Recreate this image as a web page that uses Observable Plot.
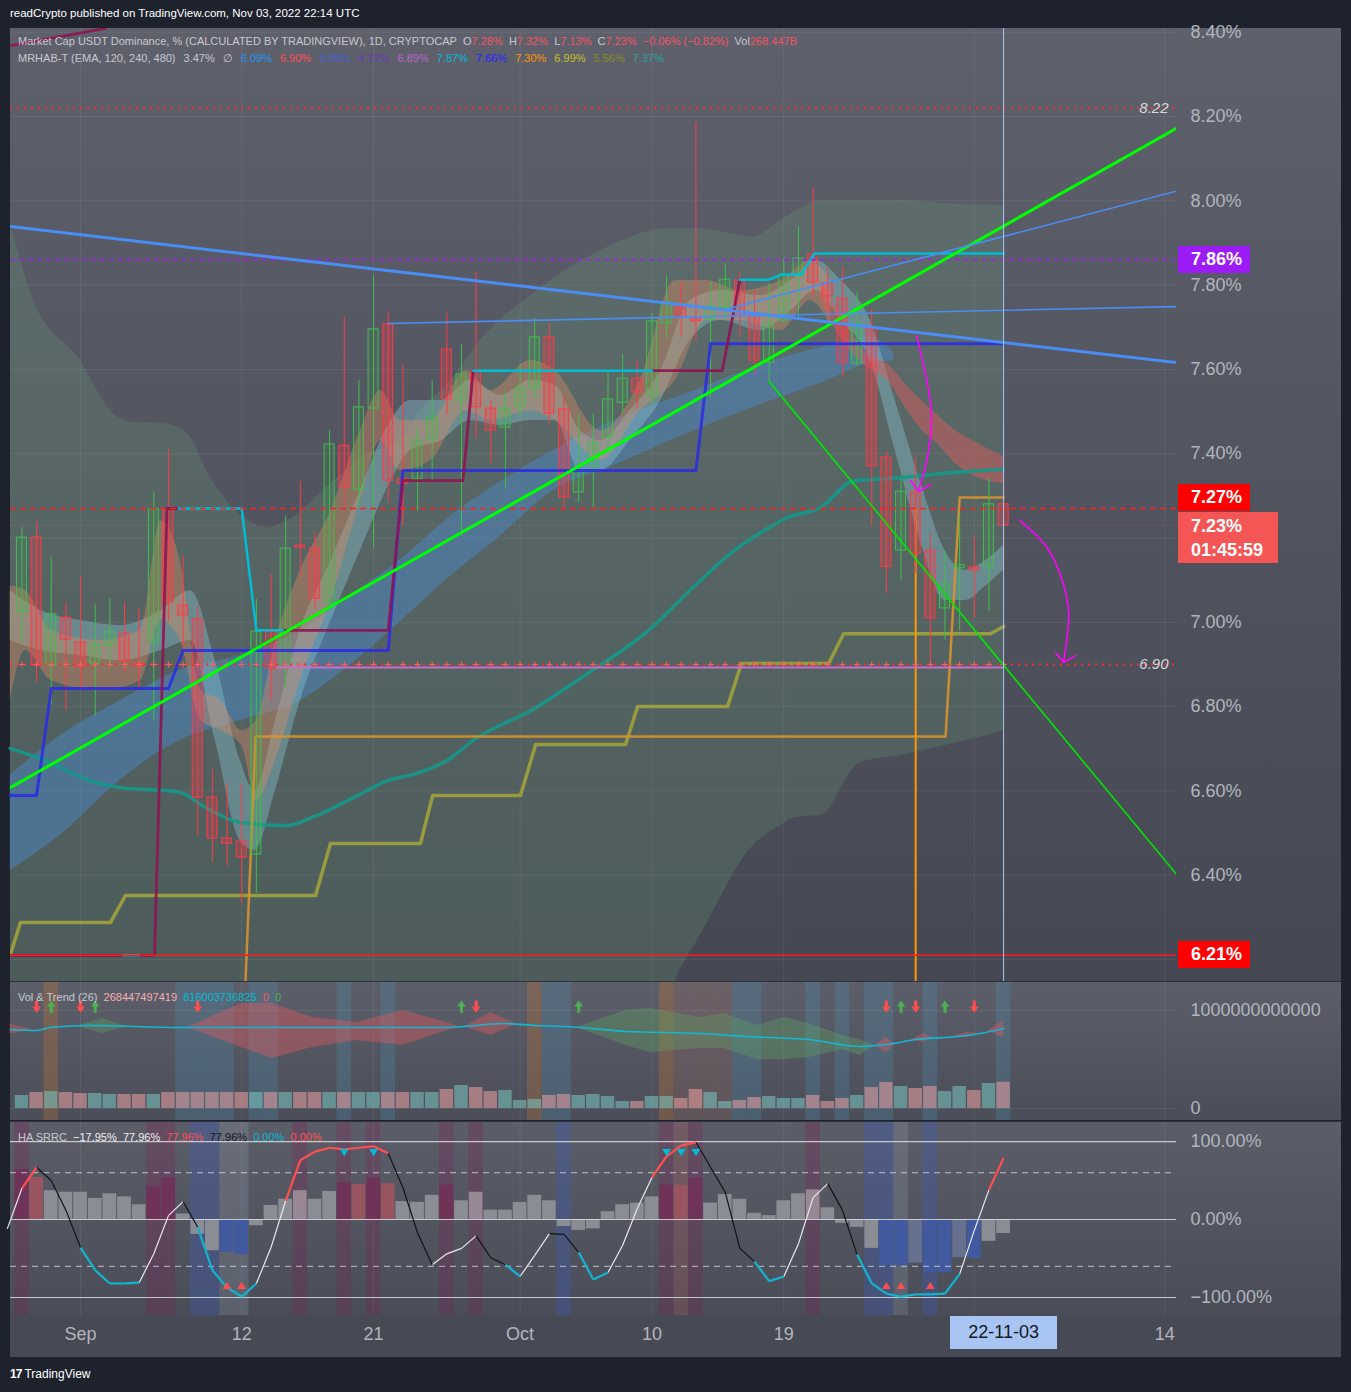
<!DOCTYPE html>
<html><head><meta charset="utf-8">
<script src="https://cdn.jsdelivr.net/npm/d3@7"></script>
<script src="https://cdn.jsdelivr.net/npm/@observablehq/plot@0.6"></script>
<style>
html,body{margin:0;padding:0;background:#1e222d;}
#root{position:relative;width:1351px;height:1392px;overflow:hidden;font-family:"Liberation Sans",Arial,sans-serif;}
.abs{position:absolute;white-space:nowrap;}
#root svg{position:absolute;}
.r{color:#f7525f}
.v{display:inline-block;margin-right:8px}
</style></head><body><div id="root"></div>
<script>
// ---------- DATA (day index 0 = Sep 1, 2022) ----------
const days = [-4,-3,-2,-1,0,1,2,3,4,5,6,7,8,9,10,11,12,13,14,15,16,17,18,19,20,21,22,23,24,25,26,27,28,29,30,31,32,33,34,35,36,37,38,39,40,41,42,43,44,45,46,47,48,49,50,51,52,53,54,55,56,57,58,59,60,61,62,63];
const opens = [7.026,7.201,6.897,7.011,6.952,6.902,6.945,6.973,6.902,6.952,
 7.268,7.040,7.007,6.584,6.487,6.480,6.449,6.978,6.893,7.182,
 7.175,7.047,7.419,7.315,7.507,7.707,7.339,7.339,7.434,7.647,
 7.526,7.597,7.507,7.462,7.512,7.555,7.676,7.505,7.308,7.358,
 7.438,7.521,7.578,7.536,7.709,7.747,7.721,7.718,7.747,7.811,
 7.730,7.616,7.716,7.823,7.873,7.804,7.768,7.614,7.695,7.391,
 7.170,7.308,7.170,7.033,7.128,7.130,7.130,7.28];
const highs = [7.225,7.239,7.154,7.047,7.109,7.042,7.056,7.047,7.033,7.308,
 7.410,7.156,7.040,6.651,6.618,6.615,7.054,7.113,7.253,7.334,
 7.213,7.455,7.723,7.574,7.823,7.737,7.609,7.460,7.574,7.733,
 7.659,7.830,7.526,7.545,7.612,7.721,7.709,7.536,7.495,7.495,
 7.593,7.635,7.621,7.733,7.823,7.804,8.186,7.806,7.851,7.832,
 7.787,7.804,7.863,7.937,8.032,7.842,7.842,7.782,7.742,7.405,
 7.341,7.393,7.211,7.168,7.256,7.204,7.341,7.32];
const lows = [6.954,6.855,6.803,6.791,6.845,6.779,6.893,6.883,6.838,6.767,
 7.002,6.940,6.494,6.430,6.421,6.333,6.357,6.814,6.843,7.106,
 7.030,7.040,7.272,7.272,7.177,7.282,7.230,7.263,7.332,7.491,
 7.204,7.434,7.377,7.315,7.484,7.529,7.472,7.265,7.284,7.272,
 7.400,7.495,7.510,7.514,7.673,7.678,7.664,7.533,7.716,7.673,
 7.590,7.571,7.709,7.721,7.771,7.744,7.581,7.607,7.230,7.068,
 7.099,7.116,6.897,6.957,6.978,7.009,7.026,7.13];
const closes = [7.201,6.897,7.019,6.959,6.893,6.947,6.976,6.907,6.895,7.268,
 7.047,7.016,6.584,6.487,6.475,6.442,6.978,6.890,7.175,7.177,
 7.056,7.422,7.320,7.510,7.695,7.336,7.329,7.431,7.488,7.529,
 7.588,7.510,7.455,7.507,7.555,7.676,7.495,7.296,7.358,7.424,
 7.529,7.578,7.545,7.714,7.759,7.723,7.714,7.749,7.813,7.726,
 7.621,7.709,7.823,7.863,7.806,7.773,7.616,7.707,7.370,7.132,
 7.310,7.163,7.009,7.090,7.135,7.123,7.280,7.23];
// volume in billions
const volumes = [133,163,173,163,153,153,143,143,143,143,
 163,163,163,163,163,163,163,163,163,163,
 163,163,163,163,163,163,163,163,163,194,
 235,214,173,184,82,92,133,143,133,143,
 122,71,71,122,122,102,194,163,71,82,
 112,122,102,102,133,71,102,133,214,265,
 224,204,224,173,224,184,255,268];

// cloud envelope
const cloudDays = [-4.8,-3.2,0,2.05,3.6,5.5,7.3,8.7,10.4,12.8,14.1,17.3,19.6,21.8,23.2,25.3,27.3,30.7,35.5,37.5,39.8,41,42.1,45.9,47.8,48.8,50.5,53.2,56,58.4,61.4,63];
const cloudHi = [7.95,7.763,7.621,7.502,7.474,7.472,7.448,7.353,7.272,7.225,7.241,7.336,7.400,7.431,7.502,7.574,7.669,7.775,7.882,7.913,7.934,7.934,7.934,7.915,7.953,7.975,8.001,8.0,8.001,7.995,7.99,7.989];
const cloudLo = [6.10,6.10,6.10,6.10,6.10,6.10,6.10,6.10,6.10,6.10,6.10,6.10,6.10,6.10,6.10,6.10,6.10,6.10,6.10,6.10,6.10,6.181,6.245,6.47,6.518,6.537,6.542,6.667,6.684,6.703,6.727,6.743];
// steel-blue band
const blueBandDays = [-4.8,-1.4,2.7,6.8,10.9,15,18.4,21.8,25.3,28.3,32.3,36.4,41.4,45.9,50.5,53.9,55.5];
const blueBandHi = [6.637,6.731,6.814,6.886,6.921,6.981,7.064,7.147,7.253,7.325,7.408,7.479,7.543,7.604,7.652,7.676,7.640];
const blueBandLo = [6.411,6.494,6.625,6.720,6.767,6.814,6.898,7.000,7.111,7.194,7.313,7.372,7.448,7.510,7.567,7.614,7.620];
// pale teal ribbon
const tealBandDays = [-4.8,-2.7,0,2.7,5.5,7.5,9.2,10.9,11.9,13.3,15,17.1,19.1,21.2,22.5,24.6,26.6,28.7,30.7,32.4,34.1,35.5,37.5,39.6,41.6,43.7,46.4,48.5,50.2,51.9,53.9,55.6,57.3,59,60.4,61.8,63];
const tealBandHi = [7.075,7.028,7.004,6.992,7.028,7.075,6.909,6.672,6.601,6.767,6.981,7.147,7.313,7.479,7.526,7.526,7.574,7.538,7.574,7.562,7.455,7.431,7.502,7.597,7.763,7.787,7.775,7.811,7.858,7.811,7.716,7.526,7.336,7.170,7.123,7.147,7.182];
const tealBandLo = [6.957,6.933,6.921,6.909,6.933,6.957,6.720,6.482,6.459,6.601,6.814,7.004,7.170,7.336,7.408,7.431,7.479,7.467,7.479,7.479,7.360,7.360,7.431,7.526,7.669,7.716,7.692,7.740,7.787,7.716,7.621,7.408,7.194,7.052,7.052,7.087,7.123];
// salmon ribbon
const salmonDays = [-4.8,-3.75,-2,1.4,4.1,5.5,6.8,8.2,9.6,11,12,13.3,15,17.1,19.1,20.5,21.8,23.9,26.3,28,30.7,32.4,35.5,38.2,40.6,42.7,45,47.8,49.8,51.2];
const salmonHi = [7.087,7.075,6.981,6.957,6.981,7.241,7.147,6.838,6.814,6.743,6.767,6.957,7.123,7.265,7.455,7.550,7.479,7.479,7.597,7.550,7.621,7.597,7.455,7.574,7.811,7.811,7.787,7.811,7.858,7.811];
const salmonLo = [6.814,6.933,6.862,6.838,6.862,7.004,6.957,6.767,6.743,6.708,6.577,6.672,6.862,7.052,7.289,7.431,7.360,7.384,7.502,7.479,7.502,7.479,7.384,7.502,7.574,7.716,7.716,7.692,7.763,7.704];
// red ribbon
const redBandDays = [50.5,52.2,53.5,55.2,56.2,57.4,58.6,59.7,60.9,63];
const redBandHi = [7.811,7.716,7.643,7.609,7.569,7.526,7.488,7.455,7.431,7.393];
const redBandLo = [7.763,7.657,7.609,7.569,7.514,7.457,7.420,7.377,7.348,7.329];
// teal curve
const tealLineDays = [-4.8,-2.4,0.6,3.1,5.8,7,8.5,11,14.1,15.8,18.9,21,22.9,25,26.8,31.1,33.9,38.9,42.3,44.6,45.9,48.3,50.5,52.8,55.2,59.4,63];
const tealLineVals = [6.701,6.672,6.625,6.606,6.601,6.594,6.561,6.525,6.518,6.537,6.589,6.625,6.641,6.672,6.720,6.798,6.862,6.985,7.099,7.170,7.201,7.249,7.272,7.336,7.341,7.355,7.363];
// step lines
const oliveDays = [-4.8,-4.1,2.05,3.07,16.04,17.06,23.2,24.03,30.03,31.06,37.2,38.02,44.16,45.1,51.06,52.08,62.1,63];
const oliveVals = [6.21,6.288,6.288,6.352,6.352,6.475,6.475,6.589,6.589,6.710,6.710,6.800,6.800,6.902,6.902,6.973,6.973,6.99];
const orangeDays = [11.2,11.95,59.04,60,63];
const orangeVals = [6.10,6.729,6.729,7.296,7.296];
const blueStepDays = [-4.8,-3,-2,6,7,21,22,42,43,63];
const blueStepVals = [6.589,6.589,6.843,6.843,6.933,6.933,7.360,7.360,7.661,7.661];
const maroonDays = [-4.8,5.05,5.9,6.7,NaN,13.8,21,22,26.1,26.8,NaN,39,43.8,45,NaN,-4.78,1.7];
const maroonVals = [6.21,6.21,7.27,7.27,NaN,6.981,6.981,7.336,7.336,7.597,NaN,7.597,7.597,7.813,NaN,8.368,8.409];
const cyanDays = [2.9,4,NaN,6.7,11,12,13.8,NaN,26.8,39,NaN,45,47,47.8,49.2,50.1,63];
const cyanVals = [6.21,6.21,NaN,7.27,7.27,6.981,6.981,NaN,7.597,7.597,NaN,7.813,7.813,7.825,7.825,7.875,7.875];
// levels
const levelDotTop = 8.22, levelPurple = 7.86, levelDashRed = 7.27, lastClose = 7.23, levelSupport = 6.90, levelFloor = 6.21;
const violetLevel = 6.893, violetFrom = 13.4, lastDay = 63, orangeMarkDay = 57;
// trendlines [day, value]
const greenTrend = [[-4.78,6.608],[74.8,8.172]];
const greenThin = [[47,7.571],[74.8,6.402]];
const blueThick = [[-4.78,7.939],[74.8,7.616]];
const blueFlat = [[21,7.709],[74.8,7.749]];
const blueRise = [[44.2,7.744],[74.8,8.023]];
// magenta arrows
const arrow1 = [[57.06,7.680],[57.88,7.550],[58.09,7.479],[57.75,7.384],[57.2,7.313]];
const arrow1Head = [[56.66,7.336],[57.2,7.310],[58.02,7.327]];
const arrow2 = [[64.1,7.242],[65.87,7.182],[66.89,7.111],[67.44,7.023],[67.3,6.957],[67.1,6.905]];
const arrow2Head = [[66.55,6.928],[67.1,6.905],[67.92,6.921]];
// price axis ticks
const priceTicks = [8.4,8.2,8.0,7.8,7.6,7.4,7.0,6.8,6.6,6.4];
const priceGrid = [8.4,8.2,8.0,7.8,7.6,7.4,7.2,7.0,6.8,6.6,6.4,6.2];
const gridXDays = [0,11,20,30,39,48,61,74];
const xTickDays = [0,11,20,30,39,48,74];
const xTickLabels = ["Sep","12","21","Oct","10","19","14"];

// volume pane
const volLineDays = [-4.8,-3,-2.1,0.6,6.8,15.8,25,28.9,31.1,34.1,37.2,42.3,45.3,49.7,53.2,55,57,59.9,61.4,63];
const volLineVals = [806,796,827,847,827,827,827,867,847,827,786,765,735,704,633,653,704,735,765,816];
const volRedDays = [-4.8,-3.2,NaN,7.3,11,13.1,15.8,18.9,22,25,26,NaN,26.2,28,29.8,NaN,54.2,55,55.6,NaN,56.7,57.5,58.2,NaN,59.6,60.5,61.4,NaN,61.9,63];
const volRedHi = [860,800,NaN,827,1071,1071,929,878,1000,878,827,NaN,835,980,860,NaN,645,724,653,NaN,700,765,720,NaN,740,776,765,NaN,790,898];
const volRedLo = [760,800,NaN,827,622,510,622,694,643,796,827,NaN,835,745,860,NaN,645,571,653,NaN,700,673,720,NaN,740,724,765,NaN,790,724];
const volGreenDays = [-0.3,1.5,3.2,NaN,33.9,37.2,38.9,42.3,43.9,46.2,48,49.7,52,53.2,54.2];
const volGreenHi = [840,918,835,NaN,827,1000,1020,929,969,847,929,867,745,700,645];
const volGreenLo = [840,765,835,NaN,827,643,571,612,612,500,500,520,600,541,645];
const volBlueCols = [7,8,9,10,12,13,18,21,32,33,45,46,50,52,54,55,58,63];
const volOrangeCols = [-2,31,40];
const volBrownCols = [41,42,43,44];
const volDownDays = [-3,0,8,27,55,57,61];
const volUpDays = [-2,1,26,34,56,59];
const volArrowLevel = 1040;

// oscillator pane (HA SRRC)
const oscDays = [-5,-4,-3,-2,-1,0,1,2,3,4,5,6,7,8,9,10,11,12,13,14,15,16,17,18,19,20,21,22,23,24,25,26,27,28,29,30,31,32,33,34,35,36,37,38,39,40,41,42,43,44,45,46,47,48,49,50,51,52,53,54,55,56,57,58,59,60,61,62,63];
const oscVals = [-12,40,67,50,12,-36,-65,-82,-82,-81,-44,5,23,-10,-65,-87,-99,-82,-36,24,76,87,92,90,92,94,85,41,-17,-58,-44,-37,-21,-49,-58,-73,-46,-18,-19,-42,-77,-68,-33,14,54,81,95,99,67,35,-37,-54,-79,-73,-31,28,46,12,-45,-82,-95,-99,-96,-96,-95,-70,-14,38,79];
const oscSegColors = ["w","r","k","k","k","c","c","c","c","w",
 "w","w","k","c","c","c","c","w","w","r",
 "r","r","r","r","r","r","k","k","k","w",
 "w","w","k","k","c","w","w","k","k","c",
 "c","w","w","w","r","r","r","k","k","k",
 "k","c","c","w","w","w","k","k","c","c",
 "c","c","c","c","c","w","w","r"];
const oscBars = [64,54,37,35,35,27,33,29,19,42,
 53,7,-19,-40,-42,-45,-8,18,26,37,
 26,36,47,45,53,46,23,22,31,44,
 24,35,12,12,22,31,24,-9,-14,-12,
 10,19,21,29,44,44,53,21,32,26,
 8,5,24,33,38,15,-5,-10,-37,-59,
 -59,-56,-68,-68,-49,-50,-28,-18];
const oscBarKinds = ["m","s","g","g","g","g","g","g","g","m",
 "m","g","g","g","b","b","g","g","g","p",
 "g","g","m","s","m","s","g","g","g","m",
 "g","p","g","g","g","g","g","g","g","g",
 "g","g","g","g","m","s","m","g","g","g",
 "g","g","g","g","p","g","g","g","g","b",
 "b","q","b","b","q","b","g","g"];
const oscMaroonCols = [-4,5,6,15,18,20,25,27,40,42,50];
const oscSalmonCols = [41];
const oscBlueCols = [8,9,33,54,55,58];
const oscLightCols = [10,11,56];
const oscTopMarks = [18,20,40,41,42];
const oscBottomMarks = [10,11,55,56,58];
const oscTopLevel = 86, oscBottomLevel = -85;

// legend values
const mrhabValues = ["6.09%","6.90%","3.95%","4.72%","6.89%","7.87%","7.66%","7.30%","6.99%","5.56%","7.37%"];
const mrhabColors = ["#2196f3","#ff5252","#4a5fd8","#673ab7","#ba68c8","#00bcd4","#2424ff","#ff9800","#c6c226","#8a8a1e","#26a69a"];

// ---------- LAYOUT ----------
const root = document.getElementById("root");
function box(left, top, w, h, bg) {
  const el = document.createElement("div");
  el.className = "abs";
  Object.assign(el.style, {left:left+"px", top:top+"px", width:w+"px", height:h+"px", background:bg});
  root.appendChild(el); return el;
}
function txt(html, style) {
  const el = document.createElement("div");
  el.className = "abs"; el.innerHTML = html;
  Object.assign(el.style, style);
  root.appendChild(el); return el;
}
box(10, 28, 1331, 953, "linear-gradient(#5e606c,#454853)");
box(10, 982, 1331, 138, "linear-gradient(#5c5e69,#4b4e59)");
box(10, 1122, 1331, 194, "linear-gradient(#5b5d68,#4a4d58)");
box(10, 1316, 1331, 41, "#474a55");
box(10, 981, 1331, 1, "#2f333e");
box(10, 1121, 1331, 1, "#2f333e");

const XD = [-4.78, 74.8];
const mainDomain = [6.1478, 8.4088];
const volDomain = [-122.4, 1285.7];
const oscDomain = [-123.1, 124.4];
const baseStyle = {background:"transparent", overflow:"visible", fontFamily:"Liberation Sans", fontSize:"18px", color:"#b2b5be"};
const common = {width:1331, marginLeft:0, marginRight:165, marginTop:0, style:baseStyle};
const zip = (xs, ys) => xs.map((x,i)=>({x, y:ys[i]}));
const zip3 = (xs, hi, lo) => xs.map((x,i)=>({x, hi:hi[i], lo:lo[i]}));
const pairs = a => a.map(([x,y])=>({x,y}));

const GREEN = "#3fbf4c", RED = "#ff3b47";
const candles = days.map((d,i)=>({d, o:opens[i], h:highs[i], l:lows[i], c:closes[i]}));
const ups = candles.filter(k=>k.c>=k.o), downs = candles.filter(k=>k.c<k.o);
const bodyOpts = (col, op) => ({x1:k=>k.d-0.34, x2:k=>k.d+0.34, y1:k=>Math.min(k.o,k.c), y2:k=>Math.max(k.o,k.c), fill:col, fillOpacity:op, stroke:col, strokeWidth:1});

const main = Plot.plot({
  ...common, height:953, marginBottom:0,
  x:{domain:XD, axis:null}, y:{domain:mainDomain, axis:null},
  marks:[
    Plot.gridY(priceGrid, {stroke:"#ffffff", strokeOpacity:0.07}),
    Plot.gridX(gridXDays, {stroke:"#ffffff", strokeOpacity:0.07}),
    Plot.areaY(zip3(cloudDays,cloudHi,cloudLo), {x:"x", y1:"lo", y2:"hi", fill:"#6fb07c", fillOpacity:0.2, curve:"monotone-x", clip:true}),
    Plot.areaY(zip3(blueBandDays,blueBandHi,blueBandLo), {x:"x", y1:"lo", y2:"hi", fill:"#4a90d9", fillOpacity:0.42, curve:"monotone-x"}),
    Plot.areaY(zip3(tealBandDays,tealBandHi,tealBandLo), {x:"x", y1:"lo", y2:"hi", fill:"#86c0cc", fillOpacity:0.42, curve:"monotone-x"}),
    Plot.areaY(zip3(salmonDays,salmonHi,salmonLo), {x:"x", y1:"lo", y2:"hi", fill:"#e38c62", fillOpacity:0.38, curve:"monotone-x"}),
    Plot.areaY(zip3(redBandDays,redBandHi,redBandLo), {x:"x", y1:"lo", y2:"hi", fill:"#e55a5a", fillOpacity:0.45, curve:"monotone-x"}),
    Plot.line(zip(tealLineDays,tealLineVals), {x:"x", y:"y", stroke:"#14998b", strokeOpacity:0.9, strokeWidth:3.5, curve:"monotone-x"}),
    Plot.line(zip(oliveDays,oliveVals), {x:"x", y:"y", stroke:"#a6a638", strokeOpacity:0.85, strokeWidth:3.5, clip:true}),
    Plot.line(zip(orangeDays,orangeVals), {x:"x", y:"y", stroke:"#d8922c", strokeOpacity:0.9, strokeWidth:2.5, clip:true}),
    Plot.ruleX([orangeMarkDay], {y1:levelDashRed, y2:mainDomain[0], stroke:"#ff9800", strokeWidth:2}),
    Plot.ruleX(ups, {x:"d", y1:"l", y2:"h", stroke:GREEN, strokeWidth:1}),
    Plot.ruleX(downs, {x:"d", y1:"l", y2:"h", stroke:RED, strokeWidth:1}),
    Plot.rect(ups, bodyOpts(GREEN, 0.12)),
    Plot.rect(downs, bodyOpts(RED, 0.28)),
    Plot.line(zip(blueStepDays,blueStepVals), {x:"x", y:"y", stroke:"#2a2ae6", strokeOpacity:0.85, strokeWidth:3}),
    Plot.line(zip(maroonDays,maroonVals), {x:"x", y:"y", stroke:"#8e1452", strokeOpacity:0.9, strokeWidth:2.8, clip:true}),
    Plot.line(zip(cyanDays,cyanVals), {x:"x", y:"y", stroke:"#00bcd4", strokeWidth:2.5}),
    Plot.ruleY([violetLevel], {x1:violetFrom, x2:lastDay, stroke:"#c46ed4", strokeWidth:2}),
    Plot.ruleY([levelDotTop], {stroke:"#ff2a2a", strokeWidth:2, strokeDasharray:"2 5"}),
    Plot.ruleY([levelPurple], {stroke:"#a020f0", strokeWidth:1.5, strokeDasharray:"5 4"}),
    Plot.ruleY([levelDashRed], {stroke:"#ff2020", strokeWidth:1.5, strokeDasharray:"6 4"}),
    Plot.ruleY([lastClose], {stroke:"#f06060", strokeWidth:1, strokeOpacity:0.6, strokeDasharray:"1 3"}),
    Plot.ruleY([levelSupport], {stroke:"#ff2a2a", strokeWidth:2, strokeDasharray:"2 5"}),
    Plot.dot(days, {x:d=>d, y:()=>levelSupport, symbol:"plus", r:2.2, stroke:"#ff6060", strokeWidth:1}),
    Plot.ruleY([levelFloor], {stroke:"#ff1a1a", strokeWidth:1.6}),
    Plot.line(pairs(greenTrend), {x:"x", y:"y", stroke:"#00ff00", strokeWidth:3, clip:true}),
    Plot.line(pairs(greenThin), {x:"x", y:"y", stroke:"#00e600", strokeWidth:1.6, clip:true}),
    Plot.line(pairs(blueThick), {x:"x", y:"y", stroke:"#4a8df5", strokeWidth:3, clip:true}),
    Plot.line(pairs(blueFlat), {x:"x", y:"y", stroke:"#4a8df5", strokeWidth:1.6, clip:true}),
    Plot.line(pairs(blueRise), {x:"x", y:"y", stroke:"#4a8df5", strokeWidth:1.6, clip:true}),
    Plot.ruleX([lastDay], {stroke:"#a9c6f7", strokeWidth:1}),
    Plot.line(pairs(arrow1), {x:"x", y:"y", curve:"catmull-rom", stroke:"#ff00ff", strokeWidth:1.6}),
    Plot.line(pairs(arrow1Head), {x:"x", y:"y", stroke:"#ff00ff", strokeWidth:1.6}),
    Plot.line(pairs(arrow2), {x:"x", y:"y", curve:"catmull-rom", stroke:"#ff00ff", strokeWidth:1.6}),
    Plot.line(pairs(arrow2Head), {x:"x", y:"y", stroke:"#ff00ff", strokeWidth:1.6}),
    Plot.text([levelDotTop, levelSupport], {y:d=>d, text:d=>d.toFixed(2), frameAnchor:"right", textAnchor:"end", dx:-8, fill:"#d6d8de", fontSize:15, fontStyle:"italic"}),
    Plot.axisY({ticks:priceTicks, anchor:"right", tickFormat:d=>d.toFixed(2)+"%", tickSize:0, tickPadding:14, fontSize:18, label:null})
  ]
});
main.style.left = "10px"; main.style.top = "28px";
root.appendChild(main);

// volume pane
const arrowDown = {draw(ctx, size){ const s = Math.sqrt(size)/2;
  ctx.moveTo(-s*0.25,-s); ctx.lineTo(s*0.25,-s); ctx.lineTo(s*0.25,0); ctx.lineTo(s*0.7,0);
  ctx.lineTo(0,s); ctx.lineTo(-s*0.7,0); ctx.lineTo(-s*0.25,0); ctx.closePath(); }};
const arrowUp = {draw(ctx, size){ const s = Math.sqrt(size)/2;
  ctx.moveTo(-s*0.25,s); ctx.lineTo(s*0.25,s); ctx.lineTo(s*0.25,0); ctx.lineTo(s*0.7,0);
  ctx.lineTo(0,-s); ctx.lineTo(-s*0.7,0); ctx.lineTo(-s*0.25,0); ctx.closePath(); }};
const triDown = {draw(ctx, size){ const s = Math.sqrt(size)/2;
  ctx.moveTo(-s,-s*0.75); ctx.lineTo(s,-s*0.75); ctx.lineTo(0,s*0.85); ctx.closePath(); }};
const triUp = {draw(ctx, size){ const s = Math.sqrt(size)/2;
  ctx.moveTo(-s,s*0.75); ctx.lineTo(s,s*0.75); ctx.lineTo(0,-s*0.85); ctx.closePath(); }};

const volRows = candles.map((k,i)=>({d:k.d, v:volumes[i], up:k.c>=k.o}));
const colRect = (arr, fill, op, dom) => Plot.rect(arr, {x1:d=>d-0.5, x2:d=>d+0.5, y1:dom[0], y2:dom[1], fill, fillOpacity:op});
const barOpts = (fill) => ({x1:r=>r.d-0.46, x2:r=>r.d+0.46, y1:0, y2:"v", fill, fillOpacity:0.55});
const vol = Plot.plot({
  ...common, height:138, marginBottom:0,
  x:{domain:XD, axis:null}, y:{domain:volDomain, axis:null},
  marks:[
    colRect(volBlueCols, "#4aa3cc", 0.2, volDomain),
    colRect(volOrangeCols, "#d0782e", 0.28, volDomain),
    colRect(volBrownCols, "#b07060", 0.2, volDomain),
    Plot.gridY([0,1000], {stroke:"#ffffff", strokeOpacity:0.08}),
    Plot.gridX(gridXDays, {stroke:"#ffffff", strokeOpacity:0.07}),
    Plot.areaY(zip3(volRedDays,volRedHi,volRedLo), {x:"x", y1:"lo", y2:"hi", fill:"#e05a60", fillOpacity:0.42}),
    Plot.areaY(zip3(volGreenDays,volGreenHi,volGreenLo), {x:"x", y1:"lo", y2:"hi", fill:"#5fae62", fillOpacity:0.32}),
    Plot.line(zip(volLineDays,volLineVals), {x:"x", y:"y", stroke:"#12b8d2", strokeWidth:1.6, curve:"monotone-x"}),
    Plot.rect(volRows.filter(r=>r.up), barOpts("#7cc8c2")),
    Plot.rect(volRows.filter(r=>!r.up), barOpts("#eca2a2")),
    Plot.dot(volDownDays, {x:d=>d, y:()=>volArrowLevel, symbol:arrowDown, r:7, fill:"#ff4d4d", stroke:"none"}),
    Plot.dot(volUpDays, {x:d=>d, y:()=>volArrowLevel, symbol:arrowUp, r:7, fill:"#4caf50", stroke:"none"}),
    Plot.axisY({ticks:[0,1000], anchor:"right", tickFormat:d=>d===0?"0":"1000000000000", tickSize:0, tickPadding:14, fontSize:18, label:null})
  ]
});
vol.style.left = "10px"; vol.style.top = "982px";
root.appendChild(vol);

// oscillator pane
const oscPts = oscDays.map((d,i)=>({d, v:oscVals[i]}));
const segs = oscPts.slice(1).map((p,i)=>({x1:oscPts[i].d, y1:oscPts[i].v, x2:p.d, y2:p.v, k:oscSegColors[i]}));
const barRows = days.map((d,i)=>({d, v:oscBars[i], k:oscBarKinds[i]}));
const barColors = {g:"#8b8d95", m:"#6e3356", s:"#985560", p:"#978893", b:"#41599f", q:"#66708f"};
const segStyle = {w:["#e8e9ee",1.2], k:["#111318",1.2], c:["#12b5d0",2.2], r:["#ff5050",2.2]};
const osc = Plot.plot({
  ...common, height:235, marginBottom:42,
  x:{domain:XD, axis:null}, y:{domain:oscDomain, axis:null},
  marks:[
    colRect(oscMaroonCols, "#8a1450", 0.22, oscDomain),
    colRect(oscSalmonCols, "#c85a5a", 0.22, oscDomain),
    colRect(oscBlueCols, "#3a5ccc", 0.28, oscDomain),
    colRect(oscLightCols, "#b4c4dc", 0.16, oscDomain),
    Plot.gridX(gridXDays, {stroke:"#ffffff", strokeOpacity:0.07}),
    ...Object.keys(barColors).map(k => Plot.rect(barRows.filter(r=>r.k===k), {x1:r=>r.d-0.47, x2:r=>r.d+0.47, y1:0, y2:"v", fill:barColors[k]})),
    Plot.ruleY([100,0,-100], {stroke:"#dcdde2", strokeOpacity:0.85, strokeWidth:1.2}),
    Plot.ruleY([60,-60], {stroke:"#dcdde2", strokeOpacity:0.8, strokeWidth:1, strokeDasharray:"6 5"}),
    ...Object.keys(segStyle).map(k => Plot.link(segs.filter(s=>s.k===k), {x1:"x1", y1:"y1", x2:"x2", y2:"y2", stroke:segStyle[k][0], strokeWidth:segStyle[k][1]})),
    Plot.dot(oscTopMarks, {x:d=>d, y:()=>oscTopLevel, symbol:triDown, r:5, fill:"#00bcd4", stroke:"none"}),
    Plot.dot(oscBottomMarks, {x:d=>d, y:()=>oscBottomLevel, symbol:triUp, r:5, fill:"#ff4d4d", stroke:"none"}),
    Plot.axisY({ticks:[100,0,-100], anchor:"right", tickFormat:d=>d===0?"0.00%":(d>0?"100.00%":"\u2212100.00%"), tickSize:0, tickPadding:14, fontSize:18, label:null}),
    Plot.axisX({ticks:xTickDays, anchor:"bottom", tickFormat:d=>xTickLabels[xTickDays.indexOf(d)], tickSize:0, tickPadding:12, fontSize:18, label:null})
  ]
});
osc.style.left = "10px"; osc.style.top = "1122px";
root.appendChild(osc);

// ---------- OVERLAYS (positions from Plot scales) ----------
const yS = main.scale("y"), xS = main.scale("x");
const py = v => 28 + yS.apply(v);
const lab = {color:"#ffffff", fontSize:"18px", fontWeight:"600", paddingLeft:"13px", boxSizing:"border-box", lineHeight:"27px"};
txt("7.86%", {...lab, left:"1178px", top:(py(levelPurple)-13.5)+"px", width:"72px", height:"27px", background:"#9b1cf6"});
const b727 = py(levelDashRed) + 3;
txt("7.27%", {...lab, left:"1178px", top:(b727-27)+"px", width:"72px", height:"27px", background:"#ff0000"});
txt("7.23%<br>01:45:59", {...lab, left:"1178px", top:(b727+1)+"px", width:"100px", height:"51px", background:"#f45656", lineHeight:"24px", paddingTop:"2px"});
txt("6.21%", {...lab, left:"1178px", top:(py(levelFloor)-13.5)+"px", width:"72px", height:"27px", background:"#ff0000"});
txt("22-11-03", {left:(10+xS.apply(lastDay)-53)+"px", top:"1316px", width:"107px", height:"33px", lineHeight:"33px", textAlign:"center", background:"#a8c4f3", color:"#131722", fontSize:"18px"});

const leg = {fontSize:"11px", color:"#c6c9d0", left:"18px"};
txt("readCrypto published on TradingView.com, Nov 03, 2022 22:14 UTC", {left:"10px", top:"7px", fontSize:"11.5px", color:"#ffffff"});
txt('Market Cap USDT Dominance, % (CALCULATED BY TRADINGVIEW), 1D, CRYPTOCAP&nbsp;&nbsp;O<span class="r">7.28%</span>&nbsp; H<span class="r">7.32%</span>&nbsp; L<span class="r">7.13%</span>&nbsp; C<span class="r">7.23%</span>&nbsp; <span class="r">\u22120.06% (\u22120.82%)</span>&nbsp;&nbsp;Vol<span class="r">268.447B</span>', {...leg, top:"35px"});
txt('<span class="v">MRHAB-T (EMA, 120, 240, 480)</span><span class="v">3.47%</span><span class="v">\u2205</span>' +
    mrhabValues.map((t,i)=>`<span class="v" style="color:${mrhabColors[i]}">${t}</span>`).join(""), {...leg, top:"52px"});
txt('Vol &amp; Trend (26)&nbsp; <span style="color:#f6b0b0">268447497419</span>&nbsp; <span style="color:#00bcd4">816003736825</span>&nbsp; <span style="color:#ff5252">0</span>&nbsp; <span style="color:#4caf50">0</span>', {...leg, top:"991px"});
txt('HA SRRC&nbsp; <span style="color:#f0f0f0">\u221217.95%</span>&nbsp; <span style="color:#f0f0f0">77.96%</span>&nbsp; <span style="color:#ff5252">77.96%</span>&nbsp; <span style="color:#131722">77.96%</span>&nbsp; <span style="color:#00bcd4">0.00%</span>&nbsp; <span style="color:#ff5252">0.00%</span>', {...leg, top:"1131px"});
txt('<b style="letter-spacing:-1px">17</b> TradingView', {left:"10px", top:"1367px", fontSize:"12px", color:"#ffffff"});
</script></body></html>
